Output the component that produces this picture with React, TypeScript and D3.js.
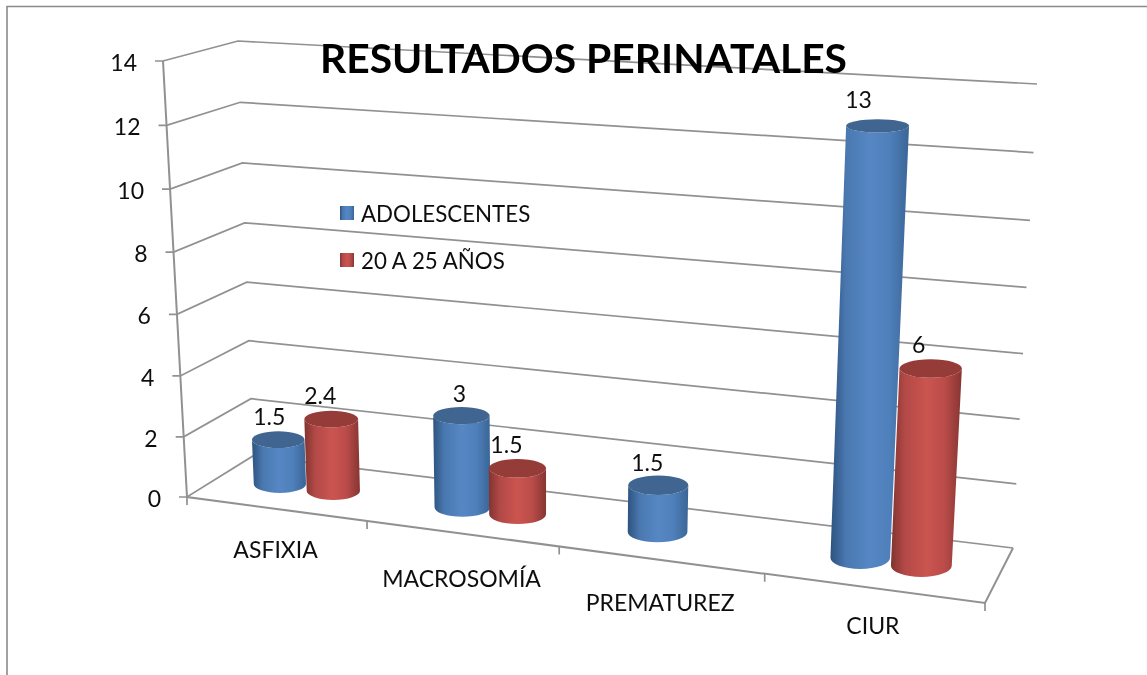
import React from "react";
import * as d3 from "d3";

const categories = ["ASFIXIA", "MACROSOMÍA", "PREMATUREZ", "CIUR"];
const adolescentes: (number | null)[] = [1.5, 3, 1.5, 13];
const veinte: (number | null)[] = [2.4, 1.5, null, 6];
const seriesNames = ["ADOLESCENTES", "20 A 25 AÑOS"];
const yTicks = [0, 2, 4, 6, 8, 10, 12, 14];
const title = "RESULTADOS PERINATALES";

const W = 1147, H = 675;
const GRID = "#919191";
const FONT = "Lato, 'Open Sans', sans-serif";

// perspective box: [u (category), v (depth), h (value)] corners in the picture
const C = {
  f0: [[187, 497], [985, 603]], // front floor
  b0: [[253, 456], [1013, 548]], // back floor
  f1: [[163, 61], [1015, 116]], // front top
  b1: [[238, 41], [1037, 84]], // back top
};
const persp = (r: number) => (t: number) => t / (t + (1 - t) * r);
const uT = d3.scaleLinear().domain([0, categories.length]).range([0, 1]);
const hT = d3.scaleLinear().domain([0, 14]).range([0, 1]);
const fu = persp(1.144), fh = persp(1.04);
const mix = (a: number, b: number, t: number) => a + (b - a) * t;
function proj(u: number, v: number, h: number): [number, number] {
  const a = fu(uT(u)), b = fh(hT(h));
  const out = [0, 1].map((i) => {
    const f0 = mix(C.f0[0][i], C.f0[1][i], a), b0 = mix(C.b0[0][i], C.b0[1][i], a);
    const f1 = mix(C.f1[0][i], C.f1[1][i], a), b1 = mix(C.b1[0][i], C.b1[1][i], a);
    return mix(mix(f0, b0, v), mix(f1, b1, v), b);
  });
  return [out[0], out[1]];
}
const line = d3.line<[number, number]>();
const seg = (...p: [number, number][]) => line(p) as string;

const R_V = 0.21, VMID = 0.5;
function cylinder(u: number, val: number, R_U: number) {
  const bL = proj(u - R_U, VMID, 0), bR = proj(u + R_U, VMID, 0);
  const tL = proj(u - R_U, VMID, val), tR = proj(u + R_U, VMID, val);
  const bC = proj(u, VMID, 0), tC = proj(u, VMID, val);
  const ryB = Math.abs(proj(u, VMID + R_V, 0)[1] - proj(u, VMID - R_V, 0)[1]) / 2;
  const ryT = Math.abs(proj(u, VMID + R_V, val)[1] - proj(u, VMID - R_V, val)[1]) / 2;
  const rxB = (bR[0] - bL[0]) / 2, rxT = (tR[0] - tL[0]) / 2;
  const body = `M${tC[0] - rxT},${tC[1]} L${bC[0] - rxB},${bC[1]} A${rxB},${ryB} 0 0 0 ${bC[0] + rxB},${bC[1]} L${tC[0] + rxT},${tC[1]} A${rxT},${ryT} 0 0 1 ${tC[0] - rxT},${tC[1]} Z`;
  return { body, tC, rxT, ryT };
}

const seriesStyle = [
  { id: "gBlue", top: "#3f6591", stops: ["#2d537f", "#4a78b0", "#5687c4", "#4f80bb", "#3a6596"] },
  { id: "gRed", top: "#953a38", stops: ["#823331", "#b34a47", "#cb5450", "#bb4d4a", "#873432"] },
];
const offsets = [0.348 - 0.5, 0.652 - 0.5];
// small optical placement corrections
const catShift = [[0, 0.015, 0.03, 0.015], [0, 0.005, 0, -0.005]];
const radius = [0.15, 0.15, 0.15, 0.14];
const labelDx = [[2, 9, 0, -8], [0, 0, 0, -1]];
const labelDy = [[0, 1, 1, -3], [0, 0, 0, 0]];
const catDy = [2, 7, 4, -1];

export default function App() {
  const series = [adolescentes, veinte];
  return (
    <svg width={W} height={H} style={{ position: "absolute", left: 0, top: 0, background: "#fff" }} fontFamily={FONT}>
      <defs>
        {seriesStyle.map((s) => (
          <linearGradient key={s.id} id={s.id} x1="0" x2="1" y1="0" y2="0">
            {s.stops.map((c, i) => (
              <stop key={i} offset={[0, 0.2, 0.5, 0.75, 1][i]} stopColor={c} />
            ))}
          </linearGradient>
        ))}
        <filter id="soft" x="-2%" y="-2%" width="104%" height="104%">
          <feGaussianBlur stdDeviation={0.45} />
        </filter>
      </defs>
      <g filter="url(#soft)">
        <path d={`M7,${H} L7,6.5 L${W},6.5`} fill="none" stroke="#8a8a8a" strokeWidth={1.6} />

        {yTicks.map((t) => {
          const a = proj(0, 0, t), b = proj(0, 1, t), c = proj(4, 1, t);
          return (
            <g key={t}>
              <path d={seg([a[0] - 8, a[1]], a, b, c)} fill="none" stroke={GRID} strokeWidth={1.7} />
              <text x={a[0] - 26} y={a[1] + 1} textAnchor="end" dominantBaseline="central" fontSize={23} fill="#111">{t}</text>
            </g>
          );
        })}
        <path d={seg(proj(0, 0, 14), proj(0, 0, 0), proj(4, 0, 0), proj(4, 1, 0))} fill="none" stroke={GRID} strokeWidth={2} />
        {d3.range(categories.length + 1).map((i) => {
          const p = proj(i, 0, 0);
          return <path key={i} d={seg(p, [p[0], p[1] + 8])} stroke={GRID} strokeWidth={1.7} fill="none" />;
        })}

        {categories.map((_, i) =>
          series.map((vals, s) => {
            const v = vals[i];
            if (v === null) return null;
            const c = cylinder(i + 0.5 + offsets[s] + catShift[s][i], v, radius[i]);
            const st = seriesStyle[s];
            return (
              <g key={s}>
                <path d={c.body} fill={`url(#${st.id})`} />
                <ellipse cx={c.tC[0]} cy={c.tC[1]} rx={c.rxT} ry={c.ryT} fill={st.top} />
                <text x={c.tC[0] - 11 + labelDx[s][i]} y={c.tC[1] - 24 + labelDy[s][i]} textAnchor="middle" dominantBaseline="central" fontSize={23} fill="#111">{v}</text>
              </g>
            );
          })
        )}

        {categories.map((c, i) => {
          const p = proj(i + 0.5, 0, 0);
          return (
            <text key={c} x={p[0]} y={p[1] + 38 + catDy[i]} textAnchor="middle" dominantBaseline="central" fontSize={23} fill="#111">{c}</text>
          );
        })}

        {seriesNames.map((n, i) => (
          <g key={n}>
            <rect x={340} y={206 + i * 47} width={14} height={14} fill={`url(#${seriesStyle[i].id})`} />
            <text x={361} y={213.5 + i * 47} dominantBaseline="central" fontSize={22.3} fill="#111">{n}</text>
          </g>
        ))}

        <text x={583.5} y={57} textAnchor="middle" dominantBaseline="central" fontSize={40.8} fontWeight={700} fill="#000">{title}</text>
      </g>
    </svg>
  );
}
